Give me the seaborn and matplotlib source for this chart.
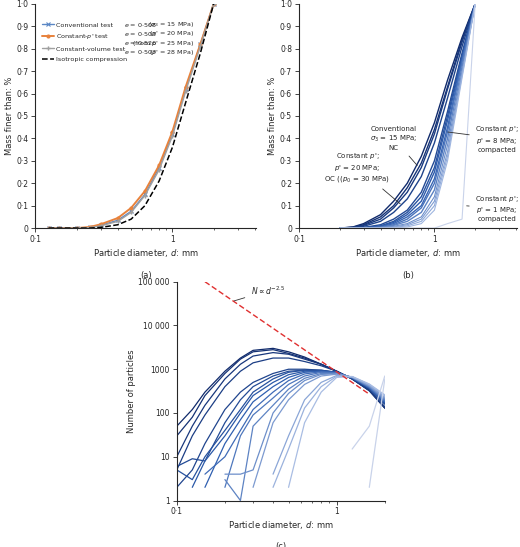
import numpy as np
import pandas as pd
import matplotlib
matplotlib.use("Agg")
import matplotlib.pyplot as plt
import seaborn as sns
from matplotlib.ticker import FixedLocator, LogLocator, NullFormatter

sns.set_theme(style="ticks")
plt.rcParams['font.family'] = ['DejaVu Sans']
plt.rcParams['font.size'] = 5.5

# ---------------- data ----------------
d_a = [0.125, 0.15, 0.2, 0.25, 0.3, 0.4, 0.5, 0.63, 0.8, 1.0, 1.25, 1.6, 2.0]
conv_a = [0, 0, 0, 0.003, 0.012, 0.035, 0.075, 0.15, 0.27, 0.42, 0.62, 0.82, 1.0]
cp_a = [0, 0, 0, 0.005, 0.017, 0.045, 0.09, 0.165, 0.28, 0.43, 0.63, 0.82, 1.0]
cv_a = [0, 0, 0, 0.002, 0.01, 0.03, 0.07, 0.145, 0.26, 0.41, 0.61, 0.81, 1.0]
iso_a = [0, 0, 0, 0, 0.003, 0.015, 0.04, 0.1, 0.21, 0.36, 0.56, 0.78, 1.0]
legend_labels = ["Conventional test", "Constant-$p$' test", "Constant-volume test", "Isotropic compression"]
legend_e = ["$e$ = 0·508", "$e$ = 0·503", "$e$ = 0·526", "$e$ = 0·507"]
legend_p = [r"($\sigma_3$ = 15 MPa)", "($p$' = 20 MPa)", "(from $p$' = 25 MPa)", "($p$' = 28 MPa)"]

d_b = [0.2, 0.25, 0.3, 0.4, 0.5, 0.63, 0.8, 1.0, 1.25, 1.6, 2.0]
curves_b = [
    [0, 0.005, 0.02, 0.06, 0.12, 0.2, 0.32, 0.47, 0.66, 0.85, 1],
    [0, 0.004, 0.015, 0.05, 0.1, 0.18, 0.29, 0.44, 0.63, 0.84, 1],
    [0, 0.003, 0.012, 0.04, 0.09, 0.16, 0.27, 0.42, 0.62, 0.83, 1],
    [0, 0.002, 0.008, 0.03, 0.07, 0.13, 0.23, 0.38, 0.58, 0.81, 1],
    [0, 0, 0.003, 0.015, 0.04, 0.08, 0.16, 0.3, 0.52, 0.78, 1],
    [0, 0, 0.002, 0.01, 0.03, 0.07, 0.14, 0.27, 0.5, 0.77, 1],
    [0, 0, 0.001, 0.008, 0.025, 0.06, 0.12, 0.25, 0.48, 0.76, 1],
    [0, 0, 0, 0.006, 0.02, 0.05, 0.1, 0.22, 0.45, 0.75, 1],
    [0, 0, 0, 0.004, 0.015, 0.04, 0.09, 0.2, 0.43, 0.74, 1],
    [0, 0, 0, 0.003, 0.012, 0.03, 0.07, 0.17, 0.4, 0.72, 1],
    [0, 0, 0, 0.002, 0.008, 0.02, 0.05, 0.14, 0.37, 0.7, 1],
    [0, 0, 0, 0.001, 0.005, 0.015, 0.04, 0.12, 0.34, 0.69, 1],
    [0, 0, 0, 0, 0.003, 0.01, 0.03, 0.1, 0.32, 0.68, 1],
    [0, 0, 0, 0, 0.001, 0.005, 0.02, 0.08, 0.3, 0.67, 1],
    [0, 0, 0, 0, 0, 0, 0, 0, 0.02, 0.04, 1],
]

nan = np.nan
d_c = [0.1, 0.125, 0.15, 0.2, 0.25, 0.3, 0.4, 0.5, 0.63, 0.8, 1.0, 1.25, 1.6, 2.0]
curves_c = [
    [50, 120, 300, 900, 1800, 2700, 3000, 2500, 1900, 1300, 900, 600, 330, 130],
    [30, 80, 250, 800, 1700, 2500, 2800, 2300, 1800, 1300, 900, 600, 330, 130],
    [10, 50, 150, 600, 1300, 2000, 2400, 2200, 1700, 1300, 900, 600, 320, 130],
    [5, 30, 90, 400, 900, 1400, 1800, 1800, 1500, 1200, 900, 600, 330, 140],
    [2, 5, 20, 120, 300, 500, 800, 1000, 1000, 950, 850, 620, 360, 160],
    [6, 9, 8, 60, 200, 400, 700, 900, 950, 920, 850, 620, 360, 160],
    [5, 3, 10, 40, 120, 300, 600, 850, 950, 950, 850, 630, 370, 170],
    [nan, 2, 8, 30, 100, 250, 500, 750, 900, 900, 850, 630, 370, 170],
    [nan, nan, 2, 20, 70, 180, 400, 650, 850, 900, 840, 640, 380, 180],
    [nan, nan, 4, 10, 40, 120, 300, 550, 780, 880, 830, 640, 380, 180],
    [nan, nan, nan, 2, 30, 90, 220, 450, 700, 850, 820, 650, 390, 190],
    [nan, nan, nan, 3, 1, 50, 150, 350, 620, 800, 800, 650, 400, 200],
    [nan, nan, nan, 4, 4, 5, 100, 280, 550, 760, 790, 660, 410, 210],
    [nan, nan, nan, nan, nan, 2, 60, 200, 450, 700, 770, 660, 420, 220],
    [nan, nan, nan, nan, nan, nan, 4, 30, 200, 500, 720, 670, 430, 230],
    [nan, nan, nan, nan, nan, nan, 2, 15, 130, 400, 690, 680, 450, 250],
    [nan, nan, nan, nan, nan, nan, nan, 2, 60, 300, 650, 680, 460, 260],
    [nan, nan, nan, nan, nan, nan, nan, nan, nan, nan, nan, 15, 50, 700],
    [nan, nan, nan, nan, nan, nan, nan, nan, nan, nan, nan, nan, 2, 600],
]
power_d = [0.15, 1.6]
power_n = [100000, 269]

# ---------------- figure ----------------
fig = plt.figure(figsize=(5.2, 5.47), dpi=100)
ax_a = fig.add_axes([0.068, 0.583, 0.425, 0.41])
ax_b = fig.add_axes([0.575, 0.583, 0.42, 0.41])
ax_c = fig.add_axes([0.340, 0.085, 0.40, 0.40])

def fmt_dot(v):
    return f"{v:.1f}".replace(".", "·")

def style_grad(ax, letter):
    ax.set_xscale("log")
    ax.set_xlim(0.1, 4.1)
    ax.set_ylim(0, 1.0)
    ax.xaxis.set_major_locator(FixedLocator([0.1, 1]))
    ax.set_xticklabels(["0·1", "1"])
    ax.xaxis.set_minor_locator(LogLocator(base=10, subs=np.arange(2, 10)))
    ax.xaxis.set_minor_formatter(NullFormatter())
    yt = np.round(np.arange(0, 1.01, 0.1), 1)
    ax.set_yticks(yt)
    ax.set_yticklabels(["0"] + [fmt_dot(v) for v in yt[1:]])
    ax.set_ylabel("Mass finer than: %", fontsize=6, labelpad=2)
    ax.set_xlabel("Particle diameter, $d$: mm", fontsize=6, labelpad=2)
    ax.tick_params(labelsize=5.5, length=3, width=0.6, pad=2)
    ax.tick_params(which="minor", length=1.5, width=0.5)
    for s in ["top", "right"]:
        ax.spines[s].set_visible(False)
    for s in ["left", "bottom"]:
        ax.spines[s].set_linewidth(0.8)
    ax.text(0.5, -0.19, f"({letter})", transform=ax.transAxes, ha="center", va="top", fontsize=6)

# panel a
blue, orange, grey = "#5b87c5", "#e8823c", "#a0a0a0"
ax_a.plot(d_a, conv_a, color=blue, marker="x", markersize=3, mew=0.8, lw=1, label=legend_labels[0])
ax_a.plot(d_a, cp_a, color=orange, marker="o", markersize=3, mew=0, lw=1.4, label=legend_labels[1])
ax_a.plot(d_a, cv_a, color=grey, marker="P", markersize=3, mew=0, lw=1, label=legend_labels[2])
ax_a.plot(d_a, iso_a, color="black", lw=1.1, linestyle="--", label=legend_labels[3])
style_grad(ax_a, "a")
leg = ax_a.legend(loc="upper left", bbox_to_anchor=(0.02, 0.93), frameon=False, fontsize=4.6,
                  handlelength=1.8, handletextpad=0.3, labelspacing=0.75, borderaxespad=0)
rows_y = [0.907, 0.866, 0.825, 0.784]
for yv, e, p in zip(rows_y, legend_e, legend_p):
    ax_a.text(0.40, yv, e, transform=ax_a.transAxes, fontsize=4.6, va="center")
    ax_a.text(0.72, yv, p, transform=ax_a.transAxes, fontsize=4.6, va="center", ha="right")

# panel b
pal_b = sns.blend_palette(["#102a6b", "#2f5fb0", "#9fb6e0"], len(curves_b) - 1) + ["#c9d3ea"]
for i, cv in enumerate(curves_b):
    sns.lineplot(x=d_b, y=cv, ax=ax_b, color=pal_b[i], lw=1.0 if i < 10 else 0.8, legend=False)
style_grad(ax_b, "b")
ann = dict(fontsize=5.0, ha="center", va="center", linespacing=1.2)
ax_b.annotate("Conventional\n$\\sigma_3$ = 15 MPa;\nNC", xy=(0.77, 0.27), xytext=(0.5, 0.4),
              arrowprops=dict(arrowstyle="-", color="#333333", lw=0.6), **ann)
ax_b.annotate("Constant $p$';\n$p$' = 20 MPa;\nOC (($p_0$ = 30 MPa)", xy=(0.58, 0.1), xytext=(0.27, 0.27),
              arrowprops=dict(arrowstyle="-", color="#333333", lw=0.6), **ann)
ax_b.annotate("Constant $p$';\n$p$' = 8 MPa;\ncompacted", xy=(1.2, 0.43), xytext=(2.9, 0.4),
              arrowprops=dict(arrowstyle="-", color="#333333", lw=0.6), **ann)
ax_b.annotate("Constant $p$';\n$p$' = 1 MPa;\ncompacted", xy=(1.65, 0.1), xytext=(2.9, 0.09),
              arrowprops=dict(arrowstyle="-", color="#333333", lw=0.6), **ann)

# panel c
pal_c = sns.blend_palette(["#102a6b", "#2f5fb0", "#a9bde3"], len(curves_c) - 2) + ["#c9d3ea", "#c9d3ea"]
for i, cv in enumerate(curves_c):
    df = pd.DataFrame({"d": d_c, "n": cv}).dropna()
    sns.lineplot(data=df, x="d", y="n", ax=ax_c, color=pal_c[i], lw=0.9, legend=False)
sns.lineplot(x=power_d, y=power_n, ax=ax_c, color="#e03030", lw=1.0, linestyle=(0, (4, 2)), legend=False)
ax_c.set_xscale("log")
ax_c.set_yscale("log")
ax_c.set_xlim(0.1, 2.0)
ax_c.set_ylim(1, 100000)
ax_c.xaxis.set_major_locator(FixedLocator([0.1, 1]))
ax_c.set_xticklabels(["0·1", "1"])
ax_c.xaxis.set_minor_locator(LogLocator(base=10, subs=np.arange(2, 10)))
ax_c.xaxis.set_minor_formatter(NullFormatter())
ax_c.yaxis.set_major_locator(FixedLocator([1, 10, 100, 1000, 10000, 100000]))
ax_c.set_yticklabels(["1", "10", "100", "1000", "10 000", "100 000"])
ax_c.yaxis.set_minor_locator(FixedLocator([]))
ax_c.set_ylabel("Number of particles", fontsize=6, labelpad=2)
ax_c.set_xlabel("Particle diameter, $d$: mm", fontsize=6, labelpad=2)
ax_c.tick_params(labelsize=5.5, length=3, width=0.6, pad=2)
ax_c.tick_params(which="minor", length=1.5, width=0.5)
for s in ["top", "right"]:
    ax_c.spines[s].set_visible(False)
for s in ["left", "bottom"]:
    ax_c.spines[s].set_linewidth(0.8)
ax_c.annotate("$N \\propto d^{-2.5}$", xy=(0.22, 35000), xytext=(0.29, 62000), fontsize=5.5,
              va="center", arrowprops=dict(arrowstyle="-", color="#333333", lw=0.6))
ax_c.text(0.5, -0.19, "(c)", transform=ax_c.transAxes, ha="center", va="top", fontsize=6)

fig.savefig("out.png", dpi=100)
